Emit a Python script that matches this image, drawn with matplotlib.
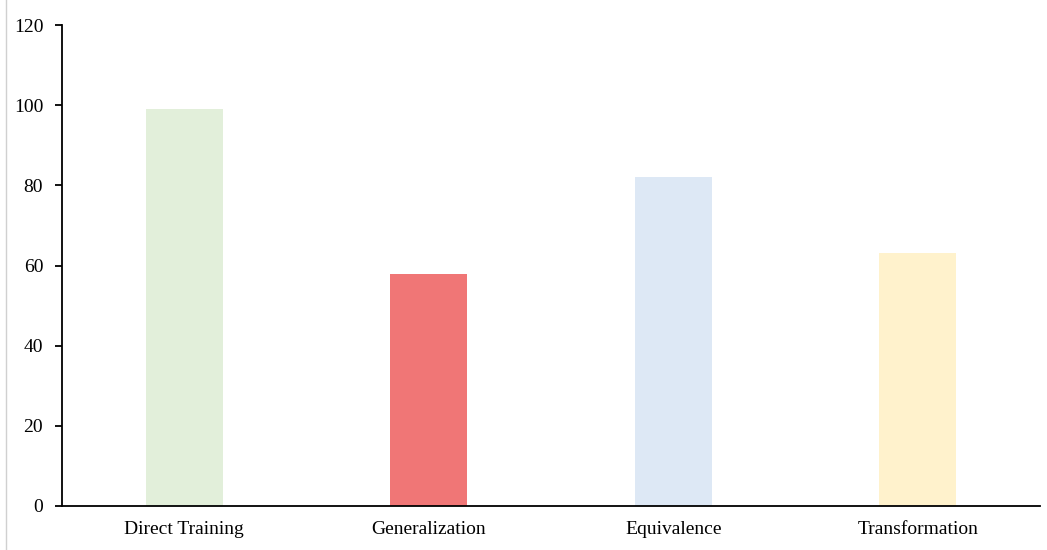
import matplotlib.pyplot as plt

categories = ["Direct Training", "Generalization", "Equivalence", "Transformation"]
values = [99, 58, 82, 63]
colors = ["#e2efda", "#f07676", "#dde8f5", "#fff2cc"]
yticks = [0, 20, 40, 60, 80, 100, 120]

plt.rcParams['font.family'] = ['Liberation Serif', 'DejaVu Serif']

fig = plt.figure(figsize=(10.47, 5.5), dpi=100)
ax = fig.add_axes([62 / 1047, 44 / 550, (1040 - 62) / 1047, (506 - 25) / 550])

x = list(range(len(categories)))
ax.bar(x, values, width=0.315, color=colors)

ax.set_xlim(-0.5, len(categories) - 0.5)
ax.set_ylim(0, 120)
ax.set_yticks(yticks)
ax.set_xticks(x)
ax.set_xticklabels(categories)

ax.spines['top'].set_visible(False)
ax.spines['right'].set_visible(False)
ax.spines['left'].set_linewidth(1.3)
ax.spines['bottom'].set_linewidth(1.3)
ax.tick_params(axis='x', length=0, pad=11, labelsize=14)
ax.tick_params(axis='y', length=5, width=1.3, pad=8.5, labelsize=14)

# thin grey border line at the left edge
fig.add_artist(plt.Line2D([6 / 1047, 6 / 1047], [0, 1], color="#d0d0d0", linewidth=1))

fig.savefig("out.png", dpi=100)
